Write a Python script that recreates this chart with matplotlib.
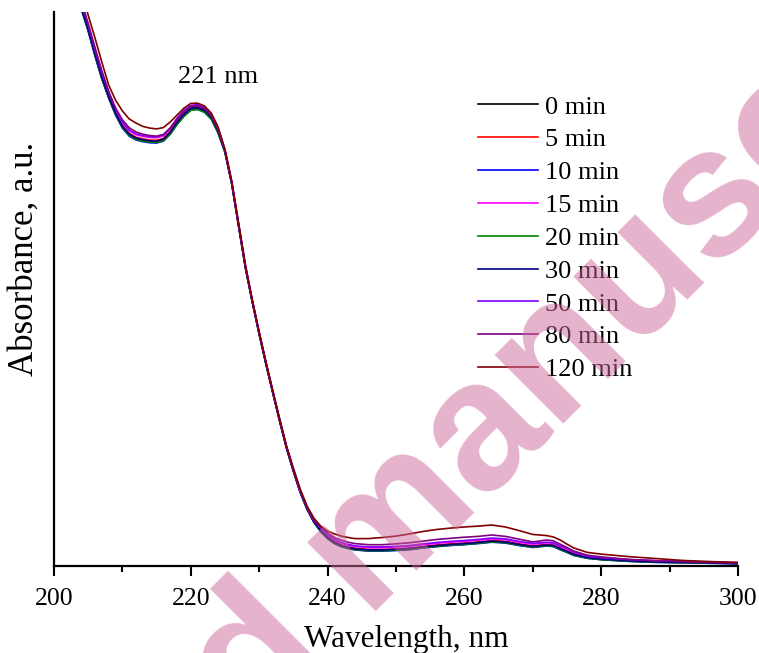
import matplotlib
matplotlib.use("Agg")
import matplotlib.pyplot as plt
from matplotlib.ticker import MultipleLocator

plt.rcParams['font.family'] = ['Liberation Serif', 'DejaVu Serif']

# wavelength grid, nm
wl = [200, 202, 203, 204, 205, 206, 207, 208, 209, 210,
      211, 212, 213, 214, 215, 216, 217, 218, 219, 220,
      221, 222, 223, 224, 225, 226, 227, 228, 229, 230,
      231, 232, 233, 234, 235, 236, 237, 238, 239, 240,
      241, 242, 243, 244, 246, 248, 250, 252, 254, 256,
      258, 260, 262, 264, 266, 268, 270, 272, 273, 274,
      275, 276, 278, 280, 284, 288, 292, 296, 300]

# absorbance (a.u.)
a0 = [3.668, 2.657, 2.314, 2.014, 1.935, 1.845, 1.762, 1.693, 1.632, 1.585,
      1.556, 1.542, 1.536, 1.532, 1.531, 1.538, 1.563, 1.599, 1.628, 1.650,
      1.653, 1.643, 1.618, 1.567, 1.495, 1.379, 1.227, 1.076, 0.953, 0.838,
      0.729, 0.625, 0.523, 0.426, 0.343, 0.267, 0.206, 0.159, 0.126, 0.101,
      0.083, 0.072, 0.065, 0.060, 0.056, 0.056, 0.058, 0.061, 0.067, 0.072,
      0.076, 0.079, 0.083, 0.088, 0.085, 0.076, 0.069, 0.074, 0.072, 0.061,
      0.051, 0.040, 0.029, 0.024, 0.018, 0.014, 0.013, 0.011, 0.009]
a5 = [3.674, 2.663, 2.320, 2.020, 1.941, 1.851, 1.768, 1.699, 1.638, 1.591,
      1.562, 1.548, 1.542, 1.538, 1.537, 1.544, 1.569, 1.605, 1.634, 1.656,
      1.659, 1.649, 1.624, 1.573, 1.498, 1.382, 1.230, 1.079, 0.956, 0.841,
      0.732, 0.628, 0.526, 0.429, 0.346, 0.270, 0.209, 0.162, 0.130, 0.105,
      0.087, 0.076, 0.069, 0.064, 0.060, 0.060, 0.062, 0.065, 0.071, 0.076,
      0.080, 0.083, 0.087, 0.092, 0.089, 0.080, 0.073, 0.078, 0.076, 0.065,
      0.055, 0.044, 0.031, 0.026, 0.020, 0.016, 0.014, 0.012, 0.010]
a10 = [3.664, 2.653, 2.310, 2.010, 1.931, 1.841, 1.758, 1.689, 1.628, 1.581,
       1.552, 1.538, 1.532, 1.528, 1.527, 1.534, 1.559, 1.595, 1.624, 1.646,
       1.649, 1.639, 1.614, 1.563, 1.494, 1.378, 1.226, 1.075, 0.952, 0.837,
       0.728, 0.624, 0.522, 0.425, 0.342, 0.266, 0.205, 0.158, 0.124, 0.099,
       0.081, 0.070, 0.063, 0.058, 0.054, 0.054, 0.056, 0.059, 0.065, 0.070,
       0.074, 0.077, 0.081, 0.086, 0.083, 0.074, 0.067, 0.072, 0.070, 0.059,
       0.049, 0.038, 0.028, 0.023, 0.017, 0.013, 0.012, 0.010, 0.008]
a15 = [3.683, 2.672, 2.329, 2.029, 1.950, 1.860, 1.777, 1.708, 1.647, 1.600,
       1.571, 1.557, 1.551, 1.547, 1.546, 1.553, 1.578, 1.614, 1.643, 1.662,
       1.665, 1.655, 1.630, 1.579, 1.499, 1.383, 1.231, 1.080, 0.957, 0.842,
       0.733, 0.629, 0.527, 0.430, 0.347, 0.271, 0.210, 0.163, 0.136, 0.111,
       0.093, 0.082, 0.075, 0.070, 0.066, 0.066, 0.068, 0.071, 0.077, 0.082,
       0.086, 0.089, 0.093, 0.098, 0.095, 0.086, 0.079, 0.084, 0.082, 0.071,
       0.061, 0.050, 0.034, 0.029, 0.023, 0.019, 0.017, 0.014, 0.012]
a20 = [3.666, 2.655, 2.312, 2.012, 1.933, 1.843, 1.760, 1.691, 1.630, 1.583,
       1.554, 1.540, 1.534, 1.530, 1.529, 1.535, 1.559, 1.594, 1.623, 1.645,
       1.648, 1.638, 1.613, 1.563, 1.493, 1.378, 1.226, 1.075, 0.952, 0.837,
       0.728, 0.624, 0.522, 0.425, 0.342, 0.266, 0.205, 0.158, 0.125, 0.100,
       0.082, 0.071, 0.064, 0.059, 0.055, 0.055, 0.057, 0.060, 0.066, 0.071,
       0.075, 0.078, 0.082, 0.087, 0.084, 0.075, 0.068, 0.073, 0.071, 0.060,
       0.050, 0.039, 0.028, 0.023, 0.017, 0.014, 0.012, 0.010, 0.009]
a30 = [3.671, 2.660, 2.317, 2.017, 1.938, 1.848, 1.765, 1.696, 1.635, 1.588,
       1.559, 1.545, 1.539, 1.535, 1.534, 1.541, 1.566, 1.602, 1.631, 1.653,
       1.656, 1.646, 1.621, 1.570, 1.497, 1.381, 1.228, 1.077, 0.954, 0.839,
       0.730, 0.626, 0.524, 0.427, 0.344, 0.268, 0.207, 0.160, 0.128, 0.103,
       0.085, 0.074, 0.067, 0.062, 0.058, 0.058, 0.060, 0.063, 0.069, 0.074,
       0.078, 0.081, 0.085, 0.090, 0.087, 0.078, 0.071, 0.076, 0.074, 0.063,
       0.053, 0.042, 0.030, 0.025, 0.019, 0.015, 0.013, 0.011, 0.009]
a50 = [3.686, 2.675, 2.332, 2.032, 1.953, 1.863, 1.780, 1.711, 1.650, 1.603,
       1.574, 1.560, 1.554, 1.550, 1.549, 1.556, 1.581, 1.617, 1.645, 1.662,
       1.665, 1.655, 1.630, 1.579, 1.499, 1.383, 1.231, 1.080, 0.957, 0.842,
       0.733, 0.629, 0.527, 0.430, 0.347, 0.271, 0.210, 0.164, 0.137, 0.113,
       0.096, 0.085, 0.078, 0.073, 0.069, 0.069, 0.071, 0.074, 0.080, 0.085,
       0.089, 0.092, 0.096, 0.101, 0.098, 0.089, 0.082, 0.086, 0.084, 0.073,
       0.063, 0.051, 0.035, 0.030, 0.023, 0.019, 0.017, 0.014, 0.012]
a80 = [3.700, 2.690, 2.340, 2.040, 1.959, 1.872, 1.788, 1.713, 1.654, 1.611,
       1.582, 1.567, 1.559, 1.554, 1.552, 1.558, 1.581, 1.612, 1.639, 1.659,
       1.661, 1.651, 1.626, 1.575, 1.500, 1.384, 1.232, 1.081, 0.958, 0.843,
       0.734, 0.630, 0.528, 0.431, 0.348, 0.272, 0.211, 0.165, 0.142, 0.119,
       0.103, 0.093, 0.086, 0.081, 0.077, 0.077, 0.080, 0.084, 0.090, 0.096,
       0.100, 0.104, 0.107, 0.112, 0.107, 0.097, 0.087, 0.094, 0.091, 0.079,
       0.067, 0.054, 0.039, 0.033, 0.024, 0.019, 0.016, 0.013, 0.011]
a120 = [3.740, 2.729, 2.386, 2.072, 1.989, 1.906, 1.819, 1.736, 1.682, 1.643,
        1.614, 1.599, 1.587, 1.581, 1.578, 1.583, 1.603, 1.628, 1.653, 1.670,
        1.671, 1.661, 1.635, 1.585, 1.505, 1.390, 1.238, 1.087, 0.960, 0.845,
        0.736, 0.632, 0.531, 0.433, 0.354, 0.278, 0.217, 0.173, 0.144, 0.126,
        0.116, 0.108, 0.103, 0.099, 0.099, 0.103, 0.108, 0.116, 0.125, 0.132,
        0.137, 0.141, 0.144, 0.148, 0.141, 0.128, 0.114, 0.110, 0.105, 0.094,
        0.079, 0.065, 0.049, 0.043, 0.034, 0.027, 0.020, 0.016, 0.013]

series = [a0, a5, a10, a15, a20, a30, a50, a80, a120]
labels = ['0 min', '5 min', '10 min', '15 min', '20 min', '30 min',
          '50 min', '80 min', '120 min']
colors = ['#000000', '#ff0000', '#0000ff', '#ff00ff', '#008000',
          '#000080', '#8000ff', '#800080', '#800000']

fig = plt.figure(figsize=(7.59, 6.53), dpi=100)
ax = fig.add_axes([0.0711, 0.1332, 0.9012, 0.8484])

for y, lab, c in zip(series, labels, colors):
    ax.plot(wl, y, color=c, lw=1.2, label=lab)

ax.set_xlim(200, 300)
ax.set_ylim(0, 2.0)
ax.spines['top'].set_visible(False)
ax.spines['right'].set_visible(False)
ax.spines['left'].set_linewidth(1.6)
ax.spines['bottom'].set_linewidth(1.6)
ax.set_yticks([])
ax.xaxis.set_major_locator(MultipleLocator(20))
ax.xaxis.set_minor_locator(MultipleLocator(10))
ax.tick_params(axis='x', which='major', direction='out', length=7, width=1.5,
               labelsize=18.5, pad=9)
ax.tick_params(axis='x', which='minor', direction='out', length=4, width=1.5)

ax.set_xlabel('Wavelength, nm', fontsize=22.5)
ax.xaxis.set_label_coords(0.515, -0.107)
ax.set_ylabel('Absorbance, a.u.', fontsize=25)
ax.yaxis.set_label_coords(-0.02, 0.554)

ax.text(224.0, 1.765, '221 nm', fontsize=19, ha='center', va='center')

leg = ax.legend(loc='upper left', bbox_to_anchor=(0.62, 0.85), frameon=False,
                fontsize=19, handlelength=2.27, handletextpad=0.27,
                labelspacing=0.355, borderpad=0, borderaxespad=0)

# watermark
fig.text(0.536, 0.112, 'Accepted manuscript', rotation=45, rotation_mode='anchor',
         ha='center', va='baseline', fontsize=132, fontweight='bold',
         family='Liberation Sans', color='#cb6799', alpha=0.5, zorder=10)

fig.savefig('out.png', dpi=100)
